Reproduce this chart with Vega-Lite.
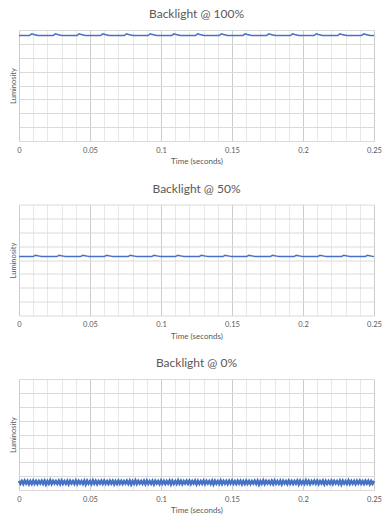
{
  "$schema": "https://vega.github.io/schema/vega-lite/v6.json",
  "background": "white",
  "padding": {"left": 9, "right": 9, "top": 8, "bottom": 2},
  "spacing": 16.5,
  "config": {
    "font": "Lato",
    "view": {"stroke": null},
    "title": {"fontSize": 12, "color": "#595959", "fontWeight": "normal", "offset": 9},
    "axisX": {
      "format": "~g",
      "labelExpr": "round(datum.value*100) % 5 == 0 ? datum.label : ''",
      "labelOverlap": false,
      "labelFlush": false,
      "ticks": false,
      "domain": false,
      "gridColor": {"condition": {"test": "round(datum.value*100) % 5 == 0", "value": "#cccccc"}, "value": "#e8e8e8"},
      "labelFontSize": 7.5,
      "labelColor": "#595959",
      "labelPadding": 5,
      "titleFontSize": 8,
      "titleColor": "#595959",
      "titleFontWeight": "normal",
      "titlePadding": 4
    },
    "axisY": {
      "labels": false,
      "ticks": false,
      "domain": false,
      "gridColor": "#dadada",
      "titleFontSize": 7.5,
      "titleColor": "#595959",
      "titleFontWeight": "normal",
      "titlePadding": 2
    }
  },
  "datasets": {
    "p100": [
      {"time":0,"luminosity":7.6},
      {"time":0.0074,"luminosity":7.6},{"time":0.0089,"luminosity":7.72},{"time":0.0104,"luminosity":7.68},{"time":0.0119,"luminosity":7.64},{"time":0.0134,"luminosity":7.6},
      {"time":0.0241,"luminosity":7.6},{"time":0.0256,"luminosity":7.72},{"time":0.0271,"luminosity":7.68},{"time":0.0286,"luminosity":7.64},{"time":0.0301,"luminosity":7.6},
      {"time":0.0408,"luminosity":7.6},{"time":0.0423,"luminosity":7.72},{"time":0.0438,"luminosity":7.68},{"time":0.0453,"luminosity":7.64},{"time":0.0468,"luminosity":7.6},
      {"time":0.0575,"luminosity":7.6},{"time":0.059,"luminosity":7.72},{"time":0.0605,"luminosity":7.68},{"time":0.062,"luminosity":7.64},{"time":0.0635,"luminosity":7.6},
      {"time":0.0742,"luminosity":7.6},{"time":0.0757,"luminosity":7.72},{"time":0.0772,"luminosity":7.68},{"time":0.0787,"luminosity":7.64},{"time":0.0802,"luminosity":7.6},
      {"time":0.0909,"luminosity":7.6},{"time":0.0924,"luminosity":7.72},{"time":0.0939,"luminosity":7.68},{"time":0.0954,"luminosity":7.64},{"time":0.0969,"luminosity":7.6},
      {"time":0.1076,"luminosity":7.6},{"time":0.1091,"luminosity":7.72},{"time":0.1106,"luminosity":7.68},{"time":0.1121,"luminosity":7.64},{"time":0.1136,"luminosity":7.6},
      {"time":0.1243,"luminosity":7.6},{"time":0.1258,"luminosity":7.72},{"time":0.1273,"luminosity":7.68},{"time":0.1288,"luminosity":7.64},{"time":0.1303,"luminosity":7.6},
      {"time":0.141,"luminosity":7.6},{"time":0.1425,"luminosity":7.72},{"time":0.144,"luminosity":7.68},{"time":0.1455,"luminosity":7.64},{"time":0.147,"luminosity":7.6},
      {"time":0.1577,"luminosity":7.6},{"time":0.1592,"luminosity":7.72},{"time":0.1607,"luminosity":7.68},{"time":0.1622,"luminosity":7.64},{"time":0.1637,"luminosity":7.6},
      {"time":0.1744,"luminosity":7.6},{"time":0.1759,"luminosity":7.72},{"time":0.1774,"luminosity":7.68},{"time":0.1789,"luminosity":7.64},{"time":0.1804,"luminosity":7.6},
      {"time":0.1911,"luminosity":7.6},{"time":0.1926,"luminosity":7.72},{"time":0.1941,"luminosity":7.68},{"time":0.1956,"luminosity":7.64},{"time":0.1971,"luminosity":7.6},
      {"time":0.2078,"luminosity":7.6},{"time":0.2093,"luminosity":7.72},{"time":0.2108,"luminosity":7.68},{"time":0.2123,"luminosity":7.64},{"time":0.2138,"luminosity":7.6},
      {"time":0.2245,"luminosity":7.6},{"time":0.226,"luminosity":7.72},{"time":0.2275,"luminosity":7.68},{"time":0.229,"luminosity":7.64},{"time":0.2305,"luminosity":7.6},
      {"time":0.2412,"luminosity":7.6},{"time":0.2427,"luminosity":7.72},{"time":0.2442,"luminosity":7.68},{"time":0.2457,"luminosity":7.64},{"time":0.2472,"luminosity":7.6},
      {"time":0.25,"luminosity":7.6}
    ],
    "p50": [
      {"time":0,"luminosity":4.25},
      {"time":0.01,"luminosity":4.25},{"time":0.0115,"luminosity":4.34},{"time":0.013,"luminosity":4.31},{"time":0.0145,"luminosity":4.28},{"time":0.016,"luminosity":4.25},
      {"time":0.0267,"luminosity":4.25},{"time":0.0282,"luminosity":4.34},{"time":0.0297,"luminosity":4.31},{"time":0.0312,"luminosity":4.28},{"time":0.0327,"luminosity":4.25},
      {"time":0.0434,"luminosity":4.25},{"time":0.0449,"luminosity":4.34},{"time":0.0464,"luminosity":4.31},{"time":0.0479,"luminosity":4.28},{"time":0.0494,"luminosity":4.25},
      {"time":0.0601,"luminosity":4.25},{"time":0.0616,"luminosity":4.34},{"time":0.0631,"luminosity":4.31},{"time":0.0646,"luminosity":4.28},{"time":0.0661,"luminosity":4.25},
      {"time":0.0768,"luminosity":4.25},{"time":0.0783,"luminosity":4.34},{"time":0.0798,"luminosity":4.31},{"time":0.0813,"luminosity":4.28},{"time":0.0828,"luminosity":4.25},
      {"time":0.0935,"luminosity":4.25},{"time":0.095,"luminosity":4.34},{"time":0.0965,"luminosity":4.31},{"time":0.098,"luminosity":4.28},{"time":0.0995,"luminosity":4.25},
      {"time":0.1102,"luminosity":4.25},{"time":0.1117,"luminosity":4.34},{"time":0.1132,"luminosity":4.31},{"time":0.1147,"luminosity":4.28},{"time":0.1162,"luminosity":4.25},
      {"time":0.1269,"luminosity":4.25},{"time":0.1284,"luminosity":4.34},{"time":0.1299,"luminosity":4.31},{"time":0.1314,"luminosity":4.28},{"time":0.1329,"luminosity":4.25},
      {"time":0.1436,"luminosity":4.25},{"time":0.1451,"luminosity":4.34},{"time":0.1466,"luminosity":4.31},{"time":0.1481,"luminosity":4.28},{"time":0.1496,"luminosity":4.25},
      {"time":0.1603,"luminosity":4.25},{"time":0.1618,"luminosity":4.34},{"time":0.1633,"luminosity":4.31},{"time":0.1648,"luminosity":4.28},{"time":0.1663,"luminosity":4.25},
      {"time":0.177,"luminosity":4.25},{"time":0.1785,"luminosity":4.34},{"time":0.18,"luminosity":4.31},{"time":0.1815,"luminosity":4.28},{"time":0.183,"luminosity":4.25},
      {"time":0.1937,"luminosity":4.25},{"time":0.1952,"luminosity":4.34},{"time":0.1967,"luminosity":4.31},{"time":0.1982,"luminosity":4.28},{"time":0.1997,"luminosity":4.25},
      {"time":0.2104,"luminosity":4.25},{"time":0.2119,"luminosity":4.34},{"time":0.2134,"luminosity":4.31},{"time":0.2149,"luminosity":4.28},{"time":0.2164,"luminosity":4.25},
      {"time":0.2271,"luminosity":4.25},{"time":0.2286,"luminosity":4.34},{"time":0.2301,"luminosity":4.31},{"time":0.2316,"luminosity":4.28},{"time":0.2331,"luminosity":4.25},
      {"time":0.2438,"luminosity":4.25},{"time":0.2453,"luminosity":4.34},{"time":0.2468,"luminosity":4.31},{"time":0.2483,"luminosity":4.28},{"time":0.25,"luminosity":4.25}
    ],
    "p0": [
      {"time":0,"luminosity":0.66},{"time":0.001,"luminosity":0.46},{"time":0.002,"luminosity":0.65},{"time":0.003,"luminosity":0.44},{"time":0.004,"luminosity":0.67},{"time":0.005,"luminosity":0.47},{"time":0.006,"luminosity":0.65},{"time":0.007,"luminosity":0.42},{"time":0.008,"luminosity":0.64},{"time":0.009,"luminosity":0.45},
      {"time":0.010,"luminosity":0.67},{"time":0.011,"luminosity":0.46},{"time":0.012,"luminosity":0.65},{"time":0.013,"luminosity":0.44},{"time":0.014,"luminosity":0.64},{"time":0.015,"luminosity":0.47},{"time":0.016,"luminosity":0.66},{"time":0.017,"luminosity":0.45},{"time":0.018,"luminosity":0.67},{"time":0.019,"luminosity":0.41},
      {"time":0.020,"luminosity":0.64},{"time":0.021,"luminosity":0.46},{"time":0.022,"luminosity":0.69},{"time":0.023,"luminosity":0.44},{"time":0.024,"luminosity":0.65},{"time":0.025,"luminosity":0.47},{"time":0.026,"luminosity":0.64},{"time":0.027,"luminosity":0.45},{"time":0.028,"luminosity":0.66},{"time":0.029,"luminosity":0.43},
      {"time":0.030,"luminosity":0.67},{"time":0.031,"luminosity":0.46},{"time":0.032,"luminosity":0.64},{"time":0.033,"luminosity":0.45},{"time":0.034,"luminosity":0.66},{"time":0.035,"luminosity":0.42},{"time":0.036,"luminosity":0.65},{"time":0.037,"luminosity":0.47},{"time":0.038,"luminosity":0.64},{"time":0.039,"luminosity":0.45},
      {"time":0.040,"luminosity":0.67},{"time":0.041,"luminosity":0.44},{"time":0.042,"luminosity":0.65},{"time":0.043,"luminosity":0.47},{"time":0.044,"luminosity":0.64},{"time":0.045,"luminosity":0.45},{"time":0.046,"luminosity":0.67},{"time":0.047,"luminosity":0.41},{"time":0.048,"luminosity":0.66},{"time":0.049,"luminosity":0.46},
      {"time":0.050,"luminosity":0.64},{"time":0.051,"luminosity":0.44},{"time":0.052,"luminosity":0.68},{"time":0.053,"luminosity":0.46},{"time":0.054,"luminosity":0.65},{"time":0.055,"luminosity":0.43},{"time":0.056,"luminosity":0.64},{"time":0.057,"luminosity":0.47},{"time":0.058,"luminosity":0.66},{"time":0.059,"luminosity":0.45},
      {"time":0.060,"luminosity":0.67},{"time":0.061,"luminosity":0.46},{"time":0.062,"luminosity":0.64},{"time":0.063,"luminosity":0.44},{"time":0.064,"luminosity":0.66},{"time":0.065,"luminosity":0.47},{"time":0.066,"luminosity":0.65},{"time":0.067,"luminosity":0.42},{"time":0.068,"luminosity":0.64},{"time":0.069,"luminosity":0.45},
      {"time":0.070,"luminosity":0.67},{"time":0.071,"luminosity":0.46},{"time":0.072,"luminosity":0.65},{"time":0.073,"luminosity":0.44},{"time":0.074,"luminosity":0.64},{"time":0.075,"luminosity":0.47},{"time":0.076,"luminosity":0.66},{"time":0.077,"luminosity":0.45},{"time":0.078,"luminosity":0.67},{"time":0.079,"luminosity":0.41},
      {"time":0.080,"luminosity":0.64},{"time":0.081,"luminosity":0.46},{"time":0.082,"luminosity":0.68},{"time":0.083,"luminosity":0.44},{"time":0.084,"luminosity":0.65},{"time":0.085,"luminosity":0.47},{"time":0.086,"luminosity":0.64},{"time":0.087,"luminosity":0.45},{"time":0.088,"luminosity":0.66},{"time":0.089,"luminosity":0.43},
      {"time":0.090,"luminosity":0.67},{"time":0.091,"luminosity":0.46},{"time":0.092,"luminosity":0.64},{"time":0.093,"luminosity":0.45},{"time":0.094,"luminosity":0.66},{"time":0.095,"luminosity":0.42},{"time":0.096,"luminosity":0.65},{"time":0.097,"luminosity":0.47},{"time":0.098,"luminosity":0.64},{"time":0.099,"luminosity":0.44},
      {"time":0.100,"luminosity":0.67},{"time":0.101,"luminosity":0.46},{"time":0.102,"luminosity":0.65},{"time":0.103,"luminosity":0.44},{"time":0.104,"luminosity":0.64},{"time":0.105,"luminosity":0.47},{"time":0.106,"luminosity":0.67},{"time":0.107,"luminosity":0.41},{"time":0.108,"luminosity":0.66},{"time":0.109,"luminosity":0.45},
      {"time":0.110,"luminosity":0.64},{"time":0.111,"luminosity":0.45},{"time":0.112,"luminosity":0.69},{"time":0.113,"luminosity":0.46},{"time":0.114,"luminosity":0.65},{"time":0.115,"luminosity":0.43},{"time":0.116,"luminosity":0.64},{"time":0.117,"luminosity":0.47},{"time":0.118,"luminosity":0.66},{"time":0.119,"luminosity":0.46},
      {"time":0.120,"luminosity":0.67},{"time":0.121,"luminosity":0.44},{"time":0.122,"luminosity":0.64},{"time":0.123,"luminosity":0.47},{"time":0.124,"luminosity":0.66},{"time":0.125,"luminosity":0.42},{"time":0.126,"luminosity":0.65},{"time":0.127,"luminosity":0.45},{"time":0.128,"luminosity":0.64},{"time":0.129,"luminosity":0.46},
      {"time":0.130,"luminosity":0.67},{"time":0.131,"luminosity":0.44},{"time":0.132,"luminosity":0.65},{"time":0.133,"luminosity":0.47},{"time":0.134,"luminosity":0.64},{"time":0.135,"luminosity":0.45},{"time":0.136,"luminosity":0.67},{"time":0.137,"luminosity":0.41},{"time":0.138,"luminosity":0.66},{"time":0.139,"luminosity":0.46},
      {"time":0.140,"luminosity":0.64},{"time":0.141,"luminosity":0.45},{"time":0.142,"luminosity":0.68},{"time":0.143,"luminosity":0.44},{"time":0.144,"luminosity":0.65},{"time":0.145,"luminosity":0.46},{"time":0.146,"luminosity":0.64},{"time":0.147,"luminosity":0.43},{"time":0.148,"luminosity":0.66},{"time":0.149,"luminosity":0.47},
      {"time":0.150,"luminosity":0.67},{"time":0.151,"luminosity":0.46},{"time":0.152,"luminosity":0.64},{"time":0.153,"luminosity":0.44},{"time":0.154,"luminosity":0.66},{"time":0.155,"luminosity":0.47},{"time":0.156,"luminosity":0.65},{"time":0.157,"luminosity":0.42},{"time":0.158,"luminosity":0.64},{"time":0.159,"luminosity":0.45},
      {"time":0.160,"luminosity":0.67},{"time":0.161,"luminosity":0.46},{"time":0.162,"luminosity":0.65},{"time":0.163,"luminosity":0.44},{"time":0.164,"luminosity":0.64},{"time":0.165,"luminosity":0.47},{"time":0.166,"luminosity":0.66},{"time":0.167,"luminosity":0.45},{"time":0.168,"luminosity":0.67},{"time":0.169,"luminosity":0.41},
      {"time":0.170,"luminosity":0.64},{"time":0.171,"luminosity":0.46},{"time":0.172,"luminosity":0.68},{"time":0.173,"luminosity":0.44},{"time":0.174,"luminosity":0.65},{"time":0.175,"luminosity":0.47},{"time":0.176,"luminosity":0.64},{"time":0.177,"luminosity":0.45},{"time":0.178,"luminosity":0.66},{"time":0.179,"luminosity":0.43},
      {"time":0.180,"luminosity":0.67},{"time":0.181,"luminosity":0.46},{"time":0.182,"luminosity":0.64},{"time":0.183,"luminosity":0.45},{"time":0.184,"luminosity":0.66},{"time":0.185,"luminosity":0.42},{"time":0.186,"luminosity":0.65},{"time":0.187,"luminosity":0.47},{"time":0.188,"luminosity":0.64},{"time":0.189,"luminosity":0.44},
      {"time":0.190,"luminosity":0.67},{"time":0.191,"luminosity":0.46},{"time":0.192,"luminosity":0.65},{"time":0.193,"luminosity":0.44},{"time":0.194,"luminosity":0.64},{"time":0.195,"luminosity":0.47},{"time":0.196,"luminosity":0.67},{"time":0.197,"luminosity":0.41},{"time":0.198,"luminosity":0.66},{"time":0.199,"luminosity":0.45},
      {"time":0.200,"luminosity":0.64},{"time":0.201,"luminosity":0.45},{"time":0.202,"luminosity":0.69},{"time":0.203,"luminosity":0.46},{"time":0.204,"luminosity":0.65},{"time":0.205,"luminosity":0.43},{"time":0.206,"luminosity":0.64},{"time":0.207,"luminosity":0.47},{"time":0.208,"luminosity":0.66},{"time":0.209,"luminosity":0.46},
      {"time":0.210,"luminosity":0.67},{"time":0.211,"luminosity":0.44},{"time":0.212,"luminosity":0.64},{"time":0.213,"luminosity":0.47},{"time":0.214,"luminosity":0.66},{"time":0.215,"luminosity":0.42},{"time":0.216,"luminosity":0.65},{"time":0.217,"luminosity":0.45},{"time":0.218,"luminosity":0.64},{"time":0.219,"luminosity":0.46},
      {"time":0.220,"luminosity":0.67},{"time":0.221,"luminosity":0.44},{"time":0.222,"luminosity":0.65},{"time":0.223,"luminosity":0.47},{"time":0.224,"luminosity":0.64},{"time":0.225,"luminosity":0.45},{"time":0.226,"luminosity":0.67},{"time":0.227,"luminosity":0.41},{"time":0.228,"luminosity":0.66},{"time":0.229,"luminosity":0.46},
      {"time":0.230,"luminosity":0.64},{"time":0.231,"luminosity":0.45},{"time":0.232,"luminosity":0.68},{"time":0.233,"luminosity":0.44},{"time":0.234,"luminosity":0.65},{"time":0.235,"luminosity":0.46},{"time":0.236,"luminosity":0.64},{"time":0.237,"luminosity":0.43},{"time":0.238,"luminosity":0.66},{"time":0.239,"luminosity":0.47},
      {"time":0.240,"luminosity":0.67},{"time":0.241,"luminosity":0.46},{"time":0.242,"luminosity":0.64},{"time":0.243,"luminosity":0.44},{"time":0.244,"luminosity":0.66},{"time":0.245,"luminosity":0.47},{"time":0.246,"luminosity":0.65},{"time":0.247,"luminosity":0.42},{"time":0.248,"luminosity":0.64},{"time":0.249,"luminosity":0.45},
      {"time":0.250,"luminosity":0.66}
    ]
  },
  "vconcat": [
    {
      "title": "Backlight @ 100%",
      "width": 355, "height": 111,
      "data": {"name": "p100"},
      "mark": {"type": "line", "color": "#4472C4", "strokeWidth": 1.5},
      "encoding": {
        "x": {"field": "time", "type": "quantitative", "scale": {"domain": [0, 0.25], "nice": false}, "axis": {"title": "Time (seconds)", "values": [0,0.01,0.02,0.03,0.04,0.05,0.06,0.07,0.08,0.09,0.1,0.11,0.12,0.13,0.14,0.15,0.16,0.17,0.18,0.19,0.2,0.21,0.22,0.23,0.24,0.25]}},
        "y": {"field": "luminosity", "type": "quantitative", "scale": {"domain": [0, 8], "nice": false}, "axis": {"title": "Luminosity", "values": [0,1,2,3,4,5,6,7,8]}}
      }
    },
    {
      "title": "Backlight @ 50%",
      "width": 355, "height": 111,
      "data": {"name": "p50"},
      "mark": {"type": "line", "color": "#4472C4", "strokeWidth": 1.5},
      "encoding": {
        "x": {"field": "time", "type": "quantitative", "scale": {"domain": [0, 0.25], "nice": false}, "axis": {"title": "Time (seconds)", "values": [0,0.01,0.02,0.03,0.04,0.05,0.06,0.07,0.08,0.09,0.1,0.11,0.12,0.13,0.14,0.15,0.16,0.17,0.18,0.19,0.2,0.21,0.22,0.23,0.24,0.25]}},
        "y": {"field": "luminosity", "type": "quantitative", "scale": {"domain": [0, 8], "nice": false}, "axis": {"title": "Luminosity", "values": [0,1,2,3,4,5,6,7,8]}}
      }
    },
    {
      "title": "Backlight @ 0%",
      "width": 355, "height": 111,
      "data": {"name": "p0"},
      "mark": {"type": "line", "color": "#4472C4", "strokeWidth": 2.6},
      "encoding": {
        "x": {"field": "time", "type": "quantitative", "scale": {"domain": [0, 0.25], "nice": false}, "axis": {"title": "Time (seconds)", "values": [0,0.01,0.02,0.03,0.04,0.05,0.06,0.07,0.08,0.09,0.1,0.11,0.12,0.13,0.14,0.15,0.16,0.17,0.18,0.19,0.2,0.21,0.22,0.23,0.24,0.25]}},
        "y": {"field": "luminosity", "type": "quantitative", "scale": {"domain": [0, 8], "nice": false}, "axis": {"title": "Luminosity", "values": [0,1,2,3,4,5,6,7,8]}}
      }
    }
  ]
}
